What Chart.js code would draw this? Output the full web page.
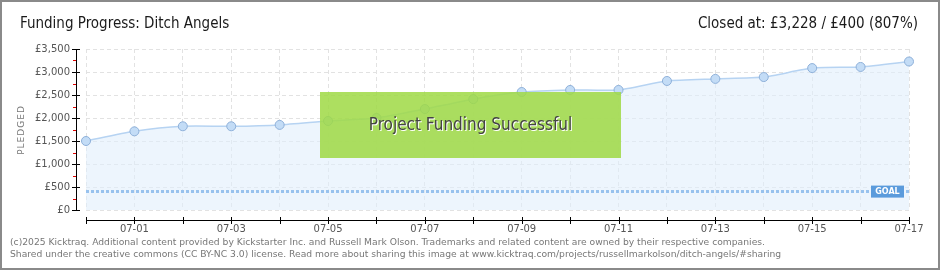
<!DOCTYPE html>
<html>
<head>
<meta charset="utf-8">
<script src="https://cdn.jsdelivr.net/npm/chart.js@4/dist/chart.umd.min.js"></script>
<style>
  html, body { margin: 0; padding: 0; background: #fff; }
  #wrap { width: 940px; height: 270px; position: relative; }
</style>
</head>
<body>
<div id="wrap"><canvas id="fundingChart" width="940" height="270"></canvas></div>
<script>
"use strict";

var days = ["06-30", "07-01", "07-02", "07-03", "07-04", "07-05", "07-06", "07-07", "07-08",
            "07-09", "07-10", "07-11", "07-12", "07-13", "07-14", "07-15", "07-16", "07-17"];
var pledged = [1500, 1710, 1820, 1820, 1850, 1935, 2000, 2195, 2410,
               2565, 2610, 2610, 2805, 2850, 2890, 3085, 3110, 3228];
var goal = [400, 400, 400, 400, 400, 400, 400, 400, 400,
            400, 400, 400, 400, 400, 400, 400, 400, 400];
var yTicks = [0, 500, 1000, 1500, 2000, 2500, 3000, 3500];

var titleFont = "'DejaVu Sans Condensed', 'Liberation Sans Narrow', 'DejaVu Sans', sans-serif";
var smallFont = "'DejaVu Sans', Verdana, sans-serif";

function money(v) {
    return "£" + v.toLocaleString("en-US");
}

var decor = {
    id: "decor",
    afterDatasetsDraw: function (chart) {
        var c = chart.ctx, x = chart.scales.x, y = chart.scales.y, a = chart.chartArea;
        c.save();

        // y axis line + ticks
        c.strokeStyle = "#000";
        c.lineWidth = 1;
        c.beginPath();
        c.moveTo(76.5, a.top);
        c.lineTo(76.5, a.bottom + 1);
        c.stroke();
        yTicks.forEach(function (t) {
            var py = Math.round(y.getPixelForValue(t)) + 0.5;
            c.beginPath();
            c.moveTo(72, py);
            c.lineTo(80, py);
            c.stroke();
        });
        c.strokeStyle = "#e00000";
        for (var i = 0; i < yTicks.length - 1; i++) {
            var my = Math.round(y.getPixelForValue((yTicks[i] + yTicks[i + 1]) / 2)) + 0.5;
            c.beginPath();
            c.moveTo(73, my);
            c.lineTo(76, my);
            c.stroke();
        }

        // x axis line + ticks
        c.strokeStyle = "#000";
        c.beginPath();
        c.moveTo(a.left, 220.5);
        c.lineTo(a.right + 1, 220.5);
        c.stroke();
        days.forEach(function (d, idx) {
            var px = Math.round(x.getPixelForValue(idx)) + 0.5;
            c.beginPath();
            c.moveTo(px, 217);
            c.lineTo(px, 224);
            c.stroke();
        });

        // axis title
        c.save();
        c.translate(22, 130);
        c.rotate(-Math.PI / 2);
        c.fillStyle = "#777";
        c.font = "9px " + smallFont;
        c.letterSpacing = "1px";
        c.textAlign = "center";
        c.textBaseline = "middle";
        c.fillText("PLEDGED", 0, 0);
        c.restore();

        // goal tag
        var gy = y.getPixelForValue(goal[goal.length - 1]);
        c.fillStyle = "#5b9bdc";
        c.fillRect(871, gy - 6, 33, 12);
        c.fillStyle = "#fff";
        c.font = "bold 8px " + smallFont;
        c.textAlign = "center";
        c.textBaseline = "middle";
        c.fillText("GOAL", 887.5, gy + 0.5);

        // success banner
        c.fillStyle = "rgba(160, 218, 70, 0.86)";
        c.fillRect(320, 92, 301, 66);
        c.font = "17px " + titleFont;
        c.textAlign = "center";
        c.textBaseline = "middle";
        c.fillStyle = "#fff";
        c.fillText("Project Funding Successful", 471.5, 127);
        c.fillStyle = "#444";
        c.fillText("Project Funding Successful", 470.5, 126);

        // headings
        c.fillStyle = "#1a1a1a";
        c.font = "15px " + titleFont;
        c.textBaseline = "middle";
        c.textAlign = "left";
        c.fillText("Funding Progress: Ditch Angels", 20, 24);
        c.textAlign = "right";
        c.fillText("Closed at: £3,228 / £400 (807%)", 918, 24);

        // footer
        c.fillStyle = "#777";
        c.font = "9.2px " + smallFont;
        c.textAlign = "left";
        c.fillText("(c)2025 Kicktraq. Additional content provided by Kickstarter Inc. and Russell Mark Olson. Trademarks and related content are owned by their respective companies.", 10, 243);
        c.fillText("Shared under the creative commons (CC BY-NC 3.0) license. Read more about sharing this image at www.kicktraq.com/projects/russellmarkolson/ditch-angels/#sharing", 10, 255);

        // frame
        c.strokeStyle = "#8a8a8a";
        c.lineWidth = 2;
        c.strokeRect(1, 1, 938, 268);
        c.restore();
    }
};

var ctx = document.getElementById("fundingChart");
var myChart = new Chart(ctx, {
    type: "line",
    data: {
        labels: days,
        datasets: [
            {
                label: "Goal",
                data: goal,
                borderColor: "#98c2ee",
                borderWidth: 3,
                borderDash: [3, 2],
                pointRadius: 0,
                fill: false,
                order: 1
            },
            {
                label: "Pledged",
                data: pledged,
                borderColor: "#b6d3f2",
                borderWidth: 1.5,
                backgroundColor: "rgba(225, 238, 252, 0.6)",
                fill: "origin",
                tension: 0.2,
                pointRadius: 4.5,
                pointBackgroundColor: "#c3dcf6",
                pointBorderColor: "#8eb0d9",
                pointBorderWidth: 1,
                order: 2
            }
        ]
    },
    options: {
        responsive: false,
        animation: false,
        events: [],
        layout: {
            padding: { top: 49, right: 31, bottom: 0, left: 0 }
        },
        plugins: {
            legend: { display: false },
            tooltip: { enabled: false }
        },
        scales: {
            x: {
                offset: false,
                grid: { color: "#e2e2e2", drawTicks: false },
                border: { display: false, dash: [4, 3] },
                ticks: {
                    autoSkip: false,
                    maxRotation: 0,
                    padding: 13,
                    color: "#555",
                    font: { family: smallFont, size: 10 },
                    callback: function (v, i) { return i % 2 === 1 ? days[i] : ""; }
                },
                afterFit: function (s) { s.height = 60; }
            },
            y: {
                min: 0,
                max: 3500,
                grid: { color: "#e2e2e2", drawTicks: false },
                border: { display: false, dash: [4, 3] },
                ticks: {
                    stepSize: 500,
                    padding: 16,
                    color: "#555",
                    font: { family: smallFont, size: 10 },
                    callback: function (v) { return money(v); }
                },
                afterFit: function (s) { s.width = 86; }
            }
        }
    },
    plugins: [decor]
});
</script>
</body>
</html>
